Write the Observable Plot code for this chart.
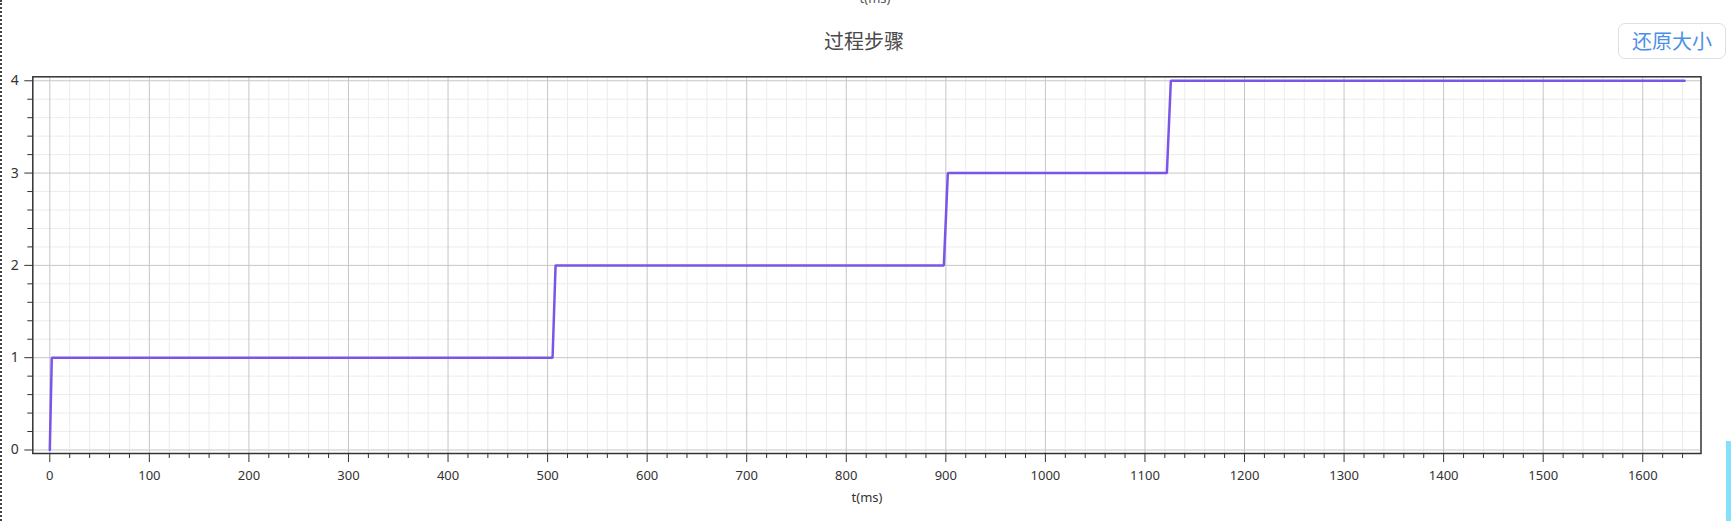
<!DOCTYPE html>
<html><head><meta charset="utf-8">
<script src="https://cdn.jsdelivr.net/npm/d3@7"></script>
<script src="https://cdn.jsdelivr.net/npm/@observablehq/plot@0.6"></script>
<style>
html,body{margin:0;padding:0;background:#fff;width:1731px;height:521px;overflow:hidden}
#wrap{position:relative;width:1731px;height:521px;overflow:hidden}
#chart{position:absolute;left:0;top:0}
.txt{position:absolute;white-space:nowrap;text-align:center}
#title{left:764px;width:200px;top:31px;font:20px/20px "Noto Sans CJK SC","Noto Sans",sans-serif;color:#4a4a4a}
#btn{position:absolute;left:1618px;top:23px;width:106px;height:34px;border:1px solid #dcdfe6;border-radius:7px;background:#fff;
 font:20px/34px "Noto Sans CJK SC","Noto Sans",sans-serif;color:#4b8fe8;text-align:center}
#xlabel{left:817px;width:100px;top:490px;font:13px/14px "Noto Sans","Noto Sans CJK SC",sans-serif;color:#333}
#prev{left:825px;width:100px;top:-9px;font:13px/14px "Noto Sans","Noto Sans CJK SC",sans-serif;color:#555}
#dots{position:absolute;left:0;top:0;width:0;height:521px;border-left:2px dotted #444}
#bluebar{position:absolute;left:1726px;top:441px;width:5px;height:80px;background:#84e0fb}
</style>
</head><body>
<div id="wrap">
  <div id="chart"></div>
  <div id="prev" class="txt">t(ms)</div>
  <div id="title" class="txt">过程步骤</div>
  <div id="btn">还原大小</div>
  <div id="xlabel" class="txt">t(ms)</div>
  <div id="dots"></div>
  <div id="bluebar"></div>
</div>
<script>
// Data: process step vs time (ms)
const timeMs = [0, 2, 505, 508, 898, 902, 1122, 1126, 1642];
const stepValue = [0, 1, 1, 2, 2, 3, 3, 4, 4];
// Tick labels
const xTicks = [0, 100, 200, 300, 400, 500, 600, 700, 800, 900, 1000, 1100, 1200, 1300, 1400, 1500, 1600];
const yTicks = [0, 1, 2, 3, 4];
const title = "过程步骤";
const xLabel = "t(ms)";

const data = timeMs.map((t, i) => ({t, v: stepValue[i]}));
const xMinor = d3.range(0, 1660, 20).filter(d => d % 100 !== 0);
const yMinor = d3.range(0, 4.01, 0.2).map(d => +d.toFixed(1)).filter(d => Math.abs(d - Math.round(d)) > 1e-6);
const fmt = d => String(d);

const chart = Plot.plot({
  width: 1731,
  height: 521,
  marginLeft: 32.3,
  marginRight: 30.5,
  marginTop: 76.3,
  marginBottom: 68,
  style: {fontFamily: "'Noto Sans', sans-serif", fontSize: "13px", color: "#333", background: "transparent"},
  x: {domain: [-17.07, 1658.5], label: null},
  y: {domain: [-0.038, 4.043], label: null},
  marks: [
    Plot.ruleX(xMinor, {stroke: "#ececec", strokeWidth: 1}),
    Plot.ruleY(yMinor, {stroke: "#ececec", strokeWidth: 1}),
    Plot.ruleX(xTicks, {stroke: "#c6c6c6", strokeWidth: 1}),
    Plot.ruleY(yTicks, {stroke: "#c6c6c6", strokeWidth: 1}),
    Plot.line(data, {x: "t", y: "v", stroke: "#7b55e8", strokeWidth: 2.5, strokeLinejoin: "miter"}),
    Plot.frame({stroke: "#333", strokeWidth: 1.5}),
    Plot.axisX(xTicks, {tickSize: 9, tickPadding: 8, tickFormat: fmt, fontSize: 13, stroke: "#333", fill: "#333", label: null}),
    Plot.axisX(xMinor, {tickSize: 5, text: null, stroke: "#333", label: null}),
    Plot.axisY(yTicks, {tickSize: 8, tickPadding: 6, tickFormat: fmt, fontSize: 14, stroke: "#333", fill: "#333", label: null}),
    Plot.axisY(yMinor, {tickSize: 5, text: null, stroke: "#333", label: null})
  ]
});
document.getElementById("chart").appendChild(chart);
document.getElementById("title").textContent = title;
document.getElementById("xlabel").textContent = xLabel;
</script>
</body></html>
